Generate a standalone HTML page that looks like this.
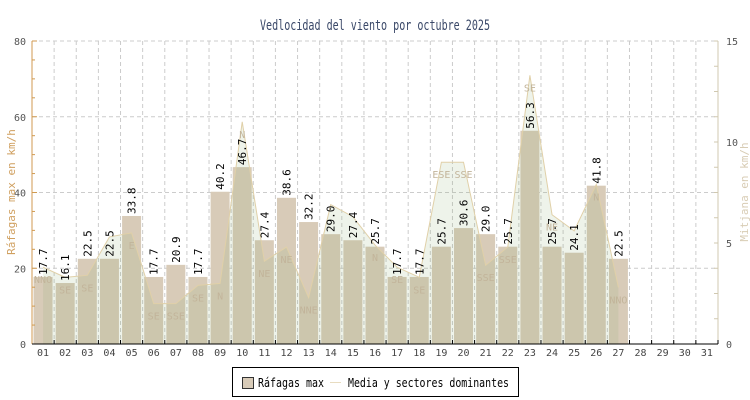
<!DOCTYPE html>
<html><head><meta charset="utf-8"><style>
html,body{margin:0;padding:0;background:#fff;width:750px;height:400px;overflow:hidden}
</style></head><body>
<svg id="s" width="750" height="400" xmlns="http://www.w3.org/2000/svg" font-family="'DejaVu Sans Mono','Liberation Mono',monospace"></svg>
<script>
const S=document.getElementById('s');
const x0=32,x1=718,yB=344,yT=41,W=(x1-x0)/31;
const ky=(yB-yT)/80, kr=(yB-yT)/15;
let h='';
h+=`<text x="260" y="30" textLength="230" lengthAdjust="spacingAndGlyphs" font-size="14" fill="#3a4868">Vedlocidad del viento por octubre 2025</text>`;
for(let v=20;v<=80;v+=20){const y=yB-v*ky;h+=`<line x1="${x0}" x2="${x1}" y1="${y}" y2="${y}" stroke="#ccc" stroke-dasharray="4,3"/>`;}
for(let d=1;d<=31;d++){const x=x0+W*d;h+=`<line x1="${x}" x2="${x}" y1="${yT}" y2="${yB}" stroke="#ccc" stroke-dasharray="4,3"/>`;}
const vals=[17.7,16.1,22.5,22.5,33.8,17.7,20.9,17.7,40.2,46.7,27.4,38.6,32.2,29.0,27.4,25.7,17.7,17.7,25.7,30.6,29.0,25.7,56.3,25.7,24.1,41.8,22.5];
const med=[3.8,3.3,3.4,5.3,5.5,2.0,2.0,2.9,3.0,11.0,4.1,4.8,2.3,6.9,6.3,4.9,3.8,3.3,9.0,9.0,3.9,4.8,13.3,6.4,5.6,7.9,2.8];
const dir=['NNO','SE','SE','','E','SE','SSE','SE','N','N','NE','NE','NNE','','','N','SE','SE','ESE','SSE','SSE','SSE','SE','NE','','N','NNO'];
const cx=d=>x0+W*(d-0.5);
vals.forEach((v,i)=>{const c=cx(i+1),y=yB-v*ky;h+=`<rect x="${c-9.5}" y="${y}" width="19" height="${yB-y}" fill="#d8cbb8"/>`;});
let pts=`${cx(1)},${yB} `;med.forEach((m,i)=>pts+=`${cx(i+1)},${yB-m*kr} `);pts+=`${cx(27)},${yB}`;
h+=`<polygon points="${pts}" fill="rgb(141,175,115)" fill-opacity="0.15"/>`;
let lp='';med.forEach((m,i)=>lp+=`${cx(i+1)},${yB-m*kr} `);
h+=`<polyline points="${lp}" fill="none" stroke="#e0d0a8" stroke-width="1"/>`;
dir.forEach((t,i)=>{if(t)h+=`<text x="${cx(i+1)}" y="${yB-med[i]*kr+16}" text-anchor="middle" font-size="10" fill="#c2b49a">${t}</text>`;});
vals.forEach((v,i)=>{const c=cx(i+1)+4,y=yB-v*ky-2;h+=`<text transform="translate(${c},${y}) rotate(-90)" font-size="11" fill="#000">${v.toFixed(1)}</text>`;});
h+=`<line x1="${x0}" x2="${x0}" y1="${yT}" y2="${yB}" stroke="#d09a50"/><line x1="${x0}" x2="${x0+5}" y1="${yT}" y2="${yT}" stroke="#d09a50"/>`;
for(let v=0;v<=80;v+=5){const y=yB-v*ky;h+=`<line x1="${x0}" x2="${x0+(v%20?3:5)}" y1="${y}" y2="${y}" stroke="#d09a50"/>`;if(v%20==0)h+=`<text x="${x0-6}" y="${y+4}" text-anchor="end" font-size="10" fill="#555">${v}</text>`;}
h+=`<line x1="${x1}" x2="${x1}" y1="${yT}" y2="${yB}" stroke="#d0c8b0"/>`;
for(let v=0;v<=15;v+=1.25){const y=yB-v*kr;h+=`<line x1="${x1-4}" x2="${x1}" y1="${y}" y2="${y}" stroke="#d0c8b0"/>`;}
for(let v=0;v<=15;v+=5){const y=yB-v*kr;h+=`<text x="${x1+8}" y="${y+4}" font-size="10" fill="#555">${v}</text>`;}
h+=`<line x1="${x0}" x2="${x1}" y1="${yB}" y2="${yB}" stroke="#000"/>`;
for(let d=1;d<=31;d++){const x=x0+W*d;h+=`<line x1="${x}" x2="${x}" y1="${yB-4}" y2="${yB}" stroke="#000"/>`;h+=`<text x="${cx(d)}" y="356" text-anchor="middle" font-size="10" fill="#444">${String(d).padStart(2,'0')}</text>`;}
h+=`<text transform="translate(15,192) rotate(-90)" text-anchor="middle" font-size="11" fill="#d0a060">Ráfagas max en km/h</text>`;
h+=`<text transform="translate(748,192) rotate(-90)" text-anchor="middle" font-size="11" fill="#d8ccb4">Mitjana en km/h</text>`;
h+=`<rect x="232.5" y="367.5" width="286" height="29" fill="#fff" stroke="#000"/>`;
h+=`<rect x="242.5" y="377.5" width="11" height="11" fill="#d8cbb8" stroke="#333"/>`;
h+=`<text x="258" y="387" textLength="66" lengthAdjust="spacingAndGlyphs" font-size="12" fill="#000">Ráfagas max</text>`;
h+=`<line x1="330" x2="341" y1="382.5" y2="382.5" stroke="#e8dcc0"/>`;
h+=`<text x="348" y="387" textLength="161" lengthAdjust="spacingAndGlyphs" font-size="12" fill="#000">Media y sectores dominantes</text>`;
S.innerHTML=h;
</script>
</body></html>
